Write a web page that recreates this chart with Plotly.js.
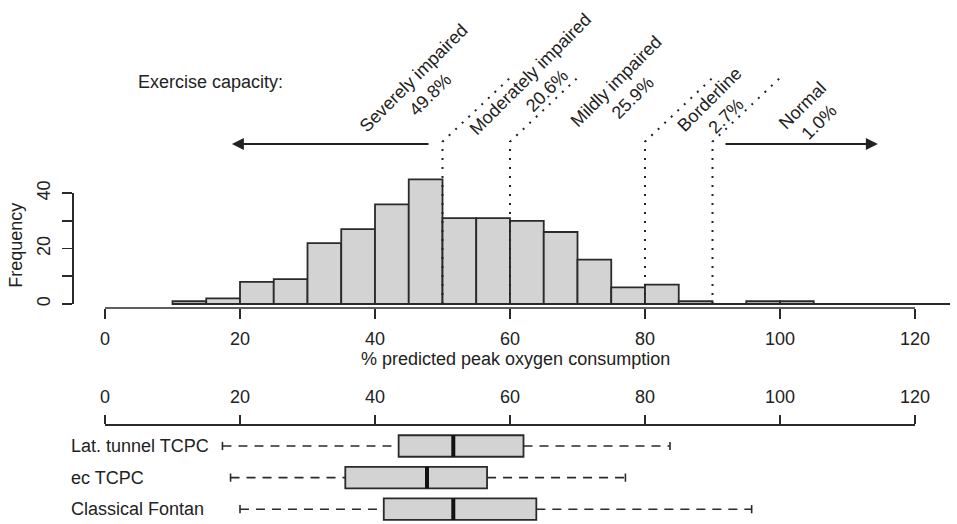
<!DOCTYPE html>
<html>
<head>
<meta charset="utf-8">
<script src="https://cdn.plot.ly/plotly-3.0.1.min.js"></script>
<style>
  html, body { margin: 0; padding: 0; background: #fff; }
  #chart { width: 957px; height: 524px; }
</style>
</head>
<body>
<div id="chart"></div>
<script>
// Histogram: % predicted peak oxygen consumption, bins of width 5
var binEdges = [10, 15, 20, 25, 30, 35, 40, 45, 50, 55, 60, 65, 70, 75, 80, 85, 90, 95, 100, 105];
var binCounts = [1, 2, 8, 9, 22, 27, 36, 45, 31, 31, 30, 26, 16, 6, 7, 1, 0, 1, 1];

// Exercise capacity classes and their cut-offs
var cutoffs = [50, 60, 80, 90];
var classNames = ['Severely impaired', 'Moderately impaired', 'Mildly impaired', 'Borderline', 'Normal'];
var classShares = ['49.8%', '20.6%', '25.9%', '2.7%', '1.0%'];

// Boxplot stats per Fontan type
var groupNames = ['Lat. tunnel TCPC', 'ec TCPC', 'Classical Fontan'];
var whiskerLow = [17.4, 18.6, 20.0];
var quart1 = [43.5, 35.6, 41.3];
var medians = [51.6, 47.7, 51.6];
var quart3 = [62.0, 56.6, 63.9];
var whiskerHigh = [83.7, 77.1, 95.8];

// Tick labels
var xTicks = [0, 20, 40, 60, 80, 100, 120];
var freqTicks = [0, 10, 20, 30, 40];
var freqLabels = ['0', '', '20', '', '40'];

/*
  Page geometry (pixels of the 957x524 picture)
*/
var W = 957, H = 524;
var X0_PX = 105;      // where 0 % sits
var PX_PER_X = 6.75;  // px per % unit
var F0_PX = 304;      // where frequency 0 sits
var PX_PER_F = 2.77;  // px per count
var ROW_PX = 31.6;    // px between boxplot rows

function paperX(px) { return px / W; }
function paperY(px) { return 1 - px / H; }

var lineColor = '#2a2a2a';
var textColor = '#222';
var fillColor = '#d3d3d3';
var fontFamily = '"Liberation Sans", Arial, Helvetica, sans-serif';

// bin centres / widths from the edges
var binCenters = binCounts.map((c, i) => (binEdges[i] + binEdges[i + 1]) / 2);
var binWidths = binCounts.map((c, i) => binEdges[i + 1] - binEdges[i]);

// rows of the boxplot, top row first
var rowY = groupNames.map((g, i) => groupNames.length - i);

var histTrace = {
  type: 'bar',
  x: binCenters,
  y: binCounts,
  width: binWidths,
  marker: { color: fillColor, line: { color: lineColor, width: 1.8 } },
  xaxis: 'x',
  yaxis: 'y',
  hoverinfo: 'skip',
};

// dotted cut-off lines: straight up, then bent at 45 degrees
var bendY = 58.6;
var bendDx = 10.5;
var bendDy = 24.2;
var cutX = [];
var cutY = [];
cutoffs.forEach((c) => {
  cutX.push(c, c, c + bendDx, null);
  cutY.push(0, bendY, bendY + bendDy, null);
});
var cutTrace = {
  type: 'scatter',
  mode: 'lines',
  x: cutX,
  y: cutY,
  line: { color: textColor, width: 2, dash: '2px,7px' },
  xaxis: 'x',
  yaxis: 'y',
  hoverinfo: 'skip',
};

var boxTrace = {
  type: 'bar',
  orientation: 'h',
  y: rowY,
  base: quart1,
  x: quart3.map((q, i) => q - quart1[i]),
  width: 0.68,
  marker: { color: fillColor, line: { color: lineColor, width: 1.8 } },
  xaxis: 'x3',
  yaxis: 'y3',
  hoverinfo: 'skip',
};

var medX = [], medY = [];
var whX = [], whY = [];
var stX = [], stY = [];
rowY.forEach((r, i) => {
  medX.push(medians[i], medians[i], null);
  medY.push(r - 0.34, r + 0.34, null);
  whX.push(whiskerLow[i], quart1[i], null, quart3[i], whiskerHigh[i], null);
  whY.push(r, r, null, r, r, null);
  stX.push(whiskerLow[i], whiskerLow[i], null, whiskerHigh[i], whiskerHigh[i], null);
  stY.push(r - 0.13, r + 0.13, null, r - 0.13, r + 0.13, null);
});

var medianTrace = {
  type: 'scatter', mode: 'lines', x: medX, y: medY,
  line: { color: '#111', width: 4 }, xaxis: 'x3', yaxis: 'y3', hoverinfo: 'skip',
};
var whiskerTrace = {
  type: 'scatter', mode: 'lines', x: whX, y: whY,
  line: { color: lineColor, width: 1.6, dash: '9px,7px' }, xaxis: 'x3', yaxis: 'y3', hoverinfo: 'skip',
};
var stapleTrace = {
  type: 'scatter', mode: 'lines', x: stX, y: stY,
  line: { color: lineColor, width: 1.6 }, xaxis: 'x3', yaxis: 'y3', hoverinfo: 'skip',
};

/*
  Annotations
*/
var annotations = [];

annotations.push({
  xref: 'x', yref: 'y', x: 15.7, y: 80.1,
  text: 'Exercise capacity:', showarrow: false,
  xanchor: 'center', yanchor: 'middle',
});

// centres of the rotated class labels (in % / count units)
var classPos = [[46.9, 78.5], [64.2, 80.0], [76.9, 77.6], [90.8, 70.8], [104.6, 68.6]];
classNames.forEach((name, i) => {
  annotations.push({
    xref: 'x', yref: 'y', x: classPos[i][0], y: classPos[i][1],
    text: name + '<br>' + classShares[i], showarrow: false,
    textangle: -45, align: 'center', xanchor: 'center', yanchor: 'middle',
  });
});

// arrows towards worse / better capacity
var arrowY = 57.8;
[[18.8, 48.15], [114.5, 91.7]].forEach((a) => {
  annotations.push({
    xref: 'x', yref: 'y', axref: 'x', ayref: 'y',
    x: a[0], y: arrowY, ax: a[1], ay: arrowY,
    text: '', showarrow: true, arrowhead: 2, arrowsize: 1.2, arrowwidth: 2, arrowcolor: textColor,
  });
});

annotations.push({
  xref: 'x', yref: 'paper', x: 60.8, y: paperY(359),
  text: '% predicted peak oxygen consumption', showarrow: false,
  xanchor: 'center', yanchor: 'middle',
});

annotations.push({
  xref: 'paper', yref: 'y2', x: paperX(16), y: 21,
  text: 'Frequency', showarrow: false, textangle: -90,
  xanchor: 'center', yanchor: 'middle',
});

// group names sit left of the box panel, so they use paper x
groupNames.forEach((g, i) => {
  annotations.push({
    xref: 'paper', yref: 'y3', x: paperX(69), y: rowY[i],
    text: g, showarrow: false, xanchor: 'left', yanchor: 'middle',
  });
});

/*
  Shapes: histogram base line and R-style x axis line
*/
var shapes = [
  {
    type: 'line', xref: 'x', yref: 'y',
    x0: binEdges[0], x1: 125.2, y0: 0, y1: 0,
    line: { color: lineColor, width: 1.8 },
  },
  {
    type: 'line', xref: 'x', yref: 'paper',
    x0: xTicks[0], x1: xTicks[xTicks.length - 1], y0: paperY(308), y1: paperY(308),
    line: { color: lineColor, width: 1.6 },
  },
];

var tickFont = { size: 18, color: textColor, family: fontFamily };

var layout = {
  width: W,
  height: H,
  margin: { t: 0, b: 0, l: 0, r: 0, pad: 0 },
  paper_bgcolor: '#fff',
  plot_bgcolor: 'rgba(0,0,0,0)',
  showlegend: false,
  hovermode: false,
  font: { size: 18, color: textColor, family: fontFamily },
  barmode: 'overlay',
  // top panel, wide hidden range so labels and arrows fit
  xaxis: {
    domain: [0, 1],
    range: [(0 - X0_PX) / PX_PER_X, (W - X0_PX) / PX_PER_X],
    tickvals: xTicks,
    ticks: 'outside', ticklen: 10, tickwidth: 1.6, tickcolor: lineColor,
    ticklabelstandoff: 4,
    tickfont: tickFont,
    showline: false, showgrid: false, zeroline: false,
    fixedrange: true,
  },
  yaxis: {
    domain: [paperY(308), 1],
    range: [(F0_PX - 308) / PX_PER_F, F0_PX / PX_PER_F],
    showticklabels: false, ticks: '',
    showline: false, showgrid: false, zeroline: false,
    fixedrange: true,
  },
  // visible frequency axis, only 0..40
  yaxis2: {
    anchor: 'free',
    position: paperX(72),
    domain: [paperY(F0_PX), paperY(F0_PX - 40 * PX_PER_F)],
    range: [0, 40],
    tickvals: freqTicks,
    ticktext: freqLabels,
    tickangle: -90,
    ticks: 'outside', ticklen: 10, tickwidth: 1.6, tickcolor: lineColor,
    ticklabelstandoff: 5,
    tickfont: tickFont,
    showline: true, linecolor: lineColor, linewidth: 1.6,
    showgrid: false, zeroline: false,
    fixedrange: true,
  },
  // boxplot panel with its axis on top
  xaxis3: {
    anchor: 'y3',
    side: 'top',
    domain: [paperX(X0_PX), paperX(X0_PX + 120 * PX_PER_X)],
    range: [0, 120],
    tickvals: xTicks,
    ticks: 'outside', ticklen: 9, tickwidth: 1.6, tickcolor: lineColor,
    ticklabelstandoff: 5,
    tickfont: tickFont,
    showline: true, linecolor: lineColor, linewidth: 1.6,
    showgrid: false, zeroline: false,
    fixedrange: true,
  },
  yaxis3: {
    anchor: 'x3',
    domain: [0, paperY(426)],
    range: [3 - (H - 446) / ROW_PX, 3 + (446 - 426) / ROW_PX],
    showticklabels: false, ticks: '',
    showline: false, showgrid: false, zeroline: false,
    fixedrange: true,
  },
  annotations: annotations,
  shapes: shapes,
};

var config = { responsive: false, displayModeBar: false, staticPlot: true };

Plotly.newPlot('chart', [histTrace, cutTrace, boxTrace, whiskerTrace, stapleTrace, medianTrace], layout, config);
</script>
</body>
</html>
